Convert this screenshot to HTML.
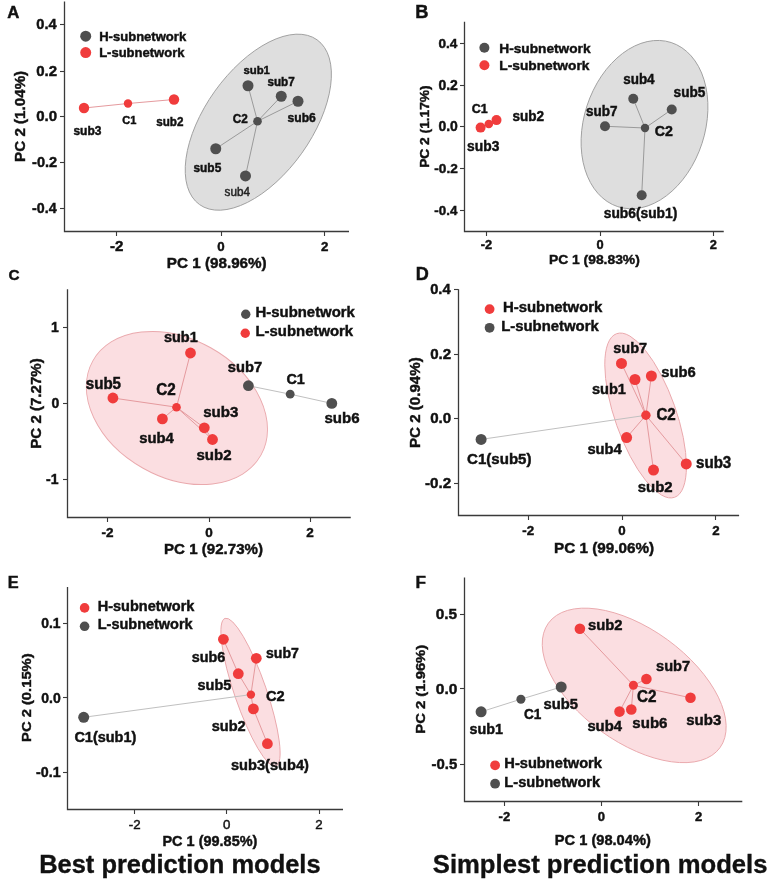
<!DOCTYPE html>
<html><head><meta charset="utf-8"><style>
html,body{margin:0;padding:0;background:#fff;}
svg{display:block;font-family:"Liberation Sans",sans-serif;filter:blur(0.4px);}
</style></head><body>
<svg width="767" height="880" viewBox="0 0 767 880">
<rect width="767" height="880" fill="#fff"/>
<text transform="translate(7.18,17.80) scale(1,1.0)" font-size="16.74" font-weight="bold" fill="#111" stroke="#111" stroke-width="0.45">A</text>
<ellipse cx="0" cy="0" rx="101.20" ry="53.40" transform="translate(258.30,122.20) rotate(-54.50)" fill="#dedede" stroke="#a0a0a0" stroke-width="0.9"/>
<path d="M64.50 1.60 V231.50 H349.00" fill="none" stroke="#3a3a3a" stroke-width="1.3"/>
<line x1="60.00" y1="24.50" x2="64.50" y2="24.50" stroke="#3a3a3a" stroke-width="1.1"/>
<line x1="60.00" y1="71.50" x2="64.50" y2="71.50" stroke="#3a3a3a" stroke-width="1.1"/>
<line x1="60.00" y1="116.50" x2="64.50" y2="116.50" stroke="#3a3a3a" stroke-width="1.1"/>
<line x1="60.00" y1="162.50" x2="64.50" y2="162.50" stroke="#3a3a3a" stroke-width="1.1"/>
<line x1="60.00" y1="208.50" x2="64.50" y2="208.50" stroke="#3a3a3a" stroke-width="1.1"/>
<line x1="116.50" y1="231.50" x2="116.50" y2="236.00" stroke="#3a3a3a" stroke-width="1.1"/>
<line x1="221.50" y1="231.50" x2="221.50" y2="236.00" stroke="#3a3a3a" stroke-width="1.1"/>
<line x1="324.50" y1="231.50" x2="324.50" y2="236.00" stroke="#3a3a3a" stroke-width="1.1"/>
<text transform="translate(36.29,29.40) scale(1,1.0)" font-size="14.61" font-weight="bold" fill="#111" stroke="#111" stroke-width="0.45">0.4</text>
<text transform="translate(36.27,75.50) scale(1,1.0)" font-size="15.00" font-weight="bold" fill="#111" stroke="#111" stroke-width="0.45">0.2</text>
<text transform="translate(36.27,120.80) scale(1,1.0)" font-size="15.00" font-weight="bold" fill="#111" stroke="#111" stroke-width="0.45">0.0</text>
<text transform="translate(32.09,166.60) scale(1,1.0)" font-size="14.55" font-weight="bold" fill="#111" stroke="#111" stroke-width="0.45">-0.2</text>
<text transform="translate(32.10,212.60) scale(1,1.0)" font-size="14.24" font-weight="bold" fill="#111" stroke="#111" stroke-width="0.45">-0.4</text>
<text transform="translate(110.07,250.80) scale(1,1.0)" font-size="15.12" font-weight="bold" fill="#111" stroke="#111" stroke-width="0.45">-2</text>
<text transform="translate(217.31,250.80) scale(1,1.0)" font-size="13.30" font-weight="bold" fill="#111" stroke="#111" stroke-width="0.45">0</text>
<text transform="translate(321.04,250.80) scale(1,1.0)" font-size="13.30" font-weight="bold" fill="#111" stroke="#111" stroke-width="0.45">2</text>
<text transform="translate(166.81,267.80) scale(1,0.98)" font-size="15.25" font-weight="bold" fill="#111" stroke="#111" stroke-width="0.45">PC 1 (98.96%)</text>
<text transform="translate(25.20,161.89) rotate(-90) scale(1,0.9201629735168035)" x="0" y="0" font-size="15.18" font-weight="bold" fill="#111" stroke="#111" stroke-width="0.45">PC 2 (1.04%)</text>
<circle cx="85.70" cy="36.20" r="5.50" fill="#4f4f4f"/>
<circle cx="85.70" cy="52.60" r="5.50" fill="#f03c3c"/>
<text transform="translate(99.15,40.80) scale(1,0.96)" font-size="13.06" font-weight="bold" fill="#111" stroke="#111" stroke-width="0.45">H-subnetwork</text>
<text transform="translate(99.15,56.60) scale(1,0.96)" font-size="13.01" font-weight="bold" fill="#111" stroke="#111" stroke-width="0.45">L-subnetwork</text>
<line x1="84.00" y1="108.00" x2="128.00" y2="103.50" stroke="#e59a9e" stroke-width="1.0"/>
<line x1="128.00" y1="103.50" x2="174.00" y2="99.50" stroke="#e59a9e" stroke-width="1.0"/>
<circle cx="84.00" cy="108.00" r="5.20" fill="#f03c3c"/>
<circle cx="128.00" cy="103.50" r="4.20" fill="#f03c3c"/>
<circle cx="174.00" cy="99.50" r="5.20" fill="#f03c3c"/>
<text transform="translate(73.38,134.60) scale(1,1.03)" font-size="12.01" font-weight="bold" fill="#111" stroke="#111" stroke-width="0.45">sub3</text>
<text transform="translate(122.26,124.10) scale(1,1.03)" font-size="11.07" font-weight="bold" fill="#111" stroke="#111" stroke-width="0.45">C1</text>
<text transform="translate(156.19,126.20) scale(1,1.03)" font-size="11.66" font-weight="bold" fill="#111" stroke="#111" stroke-width="0.45">sub2</text>
<line x1="257.50" y1="121.25" x2="248.00" y2="85.75" stroke="#9a9a9a" stroke-width="1.0"/>
<line x1="257.50" y1="121.25" x2="281.25" y2="96.25" stroke="#9a9a9a" stroke-width="1.0"/>
<line x1="257.50" y1="121.25" x2="298.00" y2="101.25" stroke="#9a9a9a" stroke-width="1.0"/>
<line x1="257.50" y1="121.25" x2="215.75" y2="148.75" stroke="#9a9a9a" stroke-width="1.0"/>
<line x1="257.50" y1="121.25" x2="245.50" y2="175.90" stroke="#9a9a9a" stroke-width="1.0"/>
<circle cx="248.00" cy="85.75" r="5.50" fill="#4f4f4f"/>
<circle cx="281.25" cy="96.25" r="5.50" fill="#4f4f4f"/>
<circle cx="298.00" cy="101.25" r="5.50" fill="#4f4f4f"/>
<circle cx="215.75" cy="148.75" r="5.50" fill="#4f4f4f"/>
<circle cx="245.50" cy="175.90" r="5.50" fill="#4f4f4f"/>
<circle cx="257.50" cy="121.25" r="4.30" fill="#4f4f4f"/>
<text transform="translate(243.40,74.10) scale(1,1.03)" font-size="11.38" font-weight="bold" fill="#111" stroke="#111" stroke-width="0.45">sub1</text>
<text transform="translate(267.49,86.00) scale(1,1.03)" font-size="11.68" font-weight="bold" fill="#111" stroke="#111" stroke-width="0.45">sub7</text>
<text transform="translate(287.48,121.60) scale(1,1.03)" font-size="12.14" font-weight="bold" fill="#111" stroke="#111" stroke-width="0.45">sub6</text>
<text transform="translate(232.83,122.80) scale(1,1.03)" font-size="11.75" font-weight="bold" fill="#111" stroke="#111" stroke-width="0.45">C2</text>
<text transform="translate(193.48,172.20) scale(1,1.03)" font-size="11.91" font-weight="bold" fill="#111" stroke="#111" stroke-width="0.45">sub5</text>
<text transform="translate(224.61,195.70) scale(1,1.03)" font-size="11.73" font-weight="normal" fill="#222" stroke="#222" stroke-width="0.45">sub4</text>
<text transform="translate(415.31,18.00) scale(1,1.0)" font-size="18.29" font-weight="bold" fill="#111" stroke="#111" stroke-width="0.45">B</text>
<ellipse cx="0" cy="0" rx="86.30" ry="60.50" transform="translate(644.50,124.60) rotate(-72.00)" fill="#dedede" stroke="#a0a0a0" stroke-width="0.9"/>
<path d="M464.50 21.80 V231.50 H723.75" fill="none" stroke="#3a3a3a" stroke-width="1.3"/>
<line x1="460.00" y1="43.50" x2="464.50" y2="43.50" stroke="#3a3a3a" stroke-width="1.1"/>
<line x1="460.00" y1="85.50" x2="464.50" y2="85.50" stroke="#3a3a3a" stroke-width="1.1"/>
<line x1="460.00" y1="126.50" x2="464.50" y2="126.50" stroke="#3a3a3a" stroke-width="1.1"/>
<line x1="460.00" y1="168.50" x2="464.50" y2="168.50" stroke="#3a3a3a" stroke-width="1.1"/>
<line x1="460.00" y1="210.50" x2="464.50" y2="210.50" stroke="#3a3a3a" stroke-width="1.1"/>
<line x1="486.50" y1="231.50" x2="486.50" y2="236.00" stroke="#3a3a3a" stroke-width="1.1"/>
<line x1="600.50" y1="231.50" x2="600.50" y2="236.00" stroke="#3a3a3a" stroke-width="1.1"/>
<line x1="713.50" y1="231.50" x2="713.50" y2="236.00" stroke="#3a3a3a" stroke-width="1.1"/>
<text transform="translate(438.42,47.60) scale(1,1.0)" font-size="13.58" font-weight="bold" fill="#111" stroke="#111" stroke-width="0.45">0.4</text>
<text transform="translate(438.41,89.60) scale(1,1.0)" font-size="13.94" font-weight="bold" fill="#111" stroke="#111" stroke-width="0.45">0.2</text>
<text transform="translate(438.41,131.30) scale(1,1.0)" font-size="13.94" font-weight="bold" fill="#111" stroke="#111" stroke-width="0.45">0.0</text>
<text transform="translate(434.32,172.80) scale(1,1.0)" font-size="13.64" font-weight="bold" fill="#111" stroke="#111" stroke-width="0.45">-0.2</text>
<text transform="translate(434.33,214.60) scale(1,1.0)" font-size="13.35" font-weight="bold" fill="#111" stroke="#111" stroke-width="0.45">-0.4</text>
<text transform="translate(480.80,249.30) scale(1,1.0)" font-size="12.80" font-weight="bold" fill="#111" stroke="#111" stroke-width="0.45">-2</text>
<text transform="translate(596.45,248.80) scale(1,1.0)" font-size="12.80" font-weight="bold" fill="#111" stroke="#111" stroke-width="0.45">0</text>
<text transform="translate(709.73,248.80) scale(1,1.0)" font-size="12.80" font-weight="bold" fill="#111" stroke="#111" stroke-width="0.45">2</text>
<text transform="translate(548.90,264.30) scale(1,0.98)" font-size="13.87" font-weight="bold" fill="#111" stroke="#111" stroke-width="0.45">PC 1 (98.83%)</text>
<text transform="translate(428.70,167.79) rotate(-90) scale(1,0.9354952317158225)" x="0" y="0" font-size="13.74" font-weight="bold" fill="#111" stroke="#111" stroke-width="0.45">PC 2 (1.17%)</text>
<circle cx="484.40" cy="47.80" r="5.00" fill="#4f4f4f"/>
<circle cx="484.40" cy="65.30" r="5.00" fill="#f03c3c"/>
<text transform="translate(499.31,52.70) scale(1,0.96)" font-size="13.70" font-weight="bold" fill="#111" stroke="#111" stroke-width="0.45">H-subnetwork</text>
<text transform="translate(499.31,69.90) scale(1,0.96)" font-size="13.75" font-weight="bold" fill="#111" stroke="#111" stroke-width="0.45">L-subnetwork</text>
<line x1="480.60" y1="127.60" x2="488.80" y2="124.00" stroke="#e59a9e" stroke-width="1.0"/>
<line x1="488.80" y1="124.00" x2="496.50" y2="120.10" stroke="#e59a9e" stroke-width="1.0"/>
<circle cx="480.60" cy="127.60" r="5.00" fill="#f03c3c"/>
<circle cx="488.80" cy="124.00" r="4.30" fill="#f03c3c"/>
<circle cx="496.50" cy="120.10" r="5.00" fill="#f03c3c"/>
<text transform="translate(471.80,113.20) scale(1,1.03)" font-size="12.48" font-weight="bold" fill="#111" stroke="#111" stroke-width="0.45">C1</text>
<text transform="translate(512.53,121.40) scale(1,1.03)" font-size="13.55" font-weight="bold" fill="#111" stroke="#111" stroke-width="0.45">sub2</text>
<text transform="translate(467.12,151.10) scale(1,1.03)" font-size="13.82" font-weight="bold" fill="#111" stroke="#111" stroke-width="0.45">sub3</text>
<line x1="645.00" y1="128.00" x2="633.25" y2="98.75" stroke="#9a9a9a" stroke-width="1.0"/>
<line x1="645.00" y1="128.00" x2="671.75" y2="109.50" stroke="#9a9a9a" stroke-width="1.0"/>
<line x1="645.00" y1="128.00" x2="605.00" y2="126.25" stroke="#9a9a9a" stroke-width="1.0"/>
<line x1="645.00" y1="128.00" x2="641.70" y2="195.20" stroke="#9a9a9a" stroke-width="1.0"/>
<circle cx="633.25" cy="98.75" r="5.00" fill="#4f4f4f"/>
<circle cx="671.75" cy="109.50" r="5.00" fill="#4f4f4f"/>
<circle cx="605.00" cy="126.25" r="5.00" fill="#4f4f4f"/>
<circle cx="641.70" cy="195.20" r="5.00" fill="#4f4f4f"/>
<circle cx="645.00" cy="128.00" r="4.20" fill="#4f4f4f"/>
<text transform="translate(623.23,84.40) scale(1,1.03)" font-size="13.43" font-weight="bold" fill="#111" stroke="#111" stroke-width="0.45">sub4</text>
<text transform="translate(673.62,97.10) scale(1,1.03)" font-size="13.63" font-weight="bold" fill="#111" stroke="#111" stroke-width="0.45">sub5</text>
<text transform="translate(585.93,115.80) scale(1,1.03)" font-size="13.50" font-weight="bold" fill="#111" stroke="#111" stroke-width="0.45">sub7</text>
<text transform="translate(654.83,136.10) scale(1,1.03)" font-size="14.17" font-weight="bold" fill="#111" stroke="#111" stroke-width="0.45">C2</text>
<text transform="translate(603.72,217.50) scale(1,1.03)" font-size="13.81" font-weight="bold" fill="#111" stroke="#111" stroke-width="0.45">sub6(sub1)</text>
<text transform="translate(8.39,280.20) scale(1,1.0)" font-size="15.27" font-weight="bold" fill="#111" stroke="#111" stroke-width="0.45">C</text>
<ellipse cx="0" cy="0" rx="96.38" ry="69.07" transform="translate(176.90,408.00) rotate(29.29)" fill="#fbdee1" stroke="#eaa9ad" stroke-width="0.9"/>
<path d="M67.50 289.25 V517.50 H350.75" fill="none" stroke="#3a3a3a" stroke-width="1.3"/>
<line x1="63.00" y1="327.50" x2="67.50" y2="327.50" stroke="#3a3a3a" stroke-width="1.1"/>
<line x1="63.00" y1="403.50" x2="67.50" y2="403.50" stroke="#3a3a3a" stroke-width="1.1"/>
<line x1="63.00" y1="479.50" x2="67.50" y2="479.50" stroke="#3a3a3a" stroke-width="1.1"/>
<line x1="107.50" y1="517.50" x2="107.50" y2="522.00" stroke="#3a3a3a" stroke-width="1.1"/>
<line x1="209.50" y1="517.50" x2="209.50" y2="522.00" stroke="#3a3a3a" stroke-width="1.1"/>
<line x1="310.50" y1="517.50" x2="310.50" y2="522.00" stroke="#3a3a3a" stroke-width="1.1"/>
<text transform="translate(51.07,332.10) scale(1,1.0)" font-size="14.00" font-weight="bold" fill="#111" stroke="#111" stroke-width="0.45">1</text>
<text transform="translate(51.51,408.20) scale(1,1.0)" font-size="14.00" font-weight="bold" fill="#111" stroke="#111" stroke-width="0.45">0</text>
<text transform="translate(46.00,484.20) scale(1,1.0)" font-size="14.00" font-weight="bold" fill="#111" stroke="#111" stroke-width="0.45">-1</text>
<text transform="translate(101.49,536.50) scale(1,1.0)" font-size="13.50" font-weight="bold" fill="#111" stroke="#111" stroke-width="0.45">-2</text>
<text transform="translate(205.25,536.60) scale(1,1.0)" font-size="13.50" font-weight="bold" fill="#111" stroke="#111" stroke-width="0.45">0</text>
<text transform="translate(306.29,536.60) scale(1,1.0)" font-size="13.50" font-weight="bold" fill="#111" stroke="#111" stroke-width="0.45">2</text>
<text transform="translate(164.02,554.20) scale(1,0.98)" font-size="15.10" font-weight="bold" fill="#111" stroke="#111" stroke-width="0.45">PC 1 (92.73%)</text>
<text transform="translate(40.50,448.68) rotate(-90) scale(1,0.9274246880766881)" x="0" y="0" font-size="15.06" font-weight="bold" fill="#111" stroke="#111" stroke-width="0.45">PC 2 (7.27%)</text>
<circle cx="245.75" cy="314.20" r="4.70" fill="#4f4f4f"/>
<circle cx="245.25" cy="333.20" r="4.70" fill="#f03c3c"/>
<text transform="translate(255.53,317.00) scale(1,0.96)" font-size="14.91" font-weight="bold" fill="#111" stroke="#111" stroke-width="0.45">H-subnetwork</text>
<text transform="translate(255.53,336.20) scale(1,0.96)" font-size="14.90" font-weight="bold" fill="#111" stroke="#111" stroke-width="0.45">L-subnetwork</text>
<line x1="176.50" y1="407.20" x2="190.50" y2="353.00" stroke="#e59a9e" stroke-width="1.0"/>
<line x1="176.50" y1="407.20" x2="112.90" y2="398.00" stroke="#e59a9e" stroke-width="1.0"/>
<line x1="176.50" y1="407.20" x2="162.40" y2="418.90" stroke="#e59a9e" stroke-width="1.0"/>
<line x1="176.50" y1="407.20" x2="204.30" y2="427.80" stroke="#e59a9e" stroke-width="1.0"/>
<line x1="176.50" y1="407.20" x2="212.50" y2="439.50" stroke="#e59a9e" stroke-width="1.0"/>
<line x1="204.30" y1="427.80" x2="212.50" y2="439.50" stroke="#e59a9e" stroke-width="1.0"/>
<line x1="248.40" y1="385.70" x2="290.20" y2="394.20" stroke="#c0c0c0" stroke-width="1.0"/>
<line x1="290.20" y1="394.20" x2="331.80" y2="403.40" stroke="#c0c0c0" stroke-width="1.0"/>
<circle cx="190.50" cy="353.00" r="5.40" fill="#f03c3c"/>
<circle cx="112.90" cy="398.00" r="5.40" fill="#f03c3c"/>
<circle cx="162.40" cy="418.90" r="5.40" fill="#f03c3c"/>
<circle cx="204.30" cy="427.80" r="5.40" fill="#f03c3c"/>
<circle cx="212.50" cy="439.50" r="5.40" fill="#f03c3c"/>
<circle cx="176.50" cy="407.20" r="4.30" fill="#f03c3c"/>
<circle cx="248.40" cy="385.70" r="5.40" fill="#4f4f4f"/>
<circle cx="290.20" cy="394.20" r="4.40" fill="#4f4f4f"/>
<circle cx="331.80" cy="403.40" r="5.40" fill="#4f4f4f"/>
<text transform="translate(163.99,342.00) scale(1,1.03)" font-size="14.46" font-weight="bold" fill="#111" stroke="#111" stroke-width="0.45">sub1</text>
<text transform="translate(85.77,388.90) scale(1,1.03)" font-size="15.12" font-weight="bold" fill="#111" stroke="#111" stroke-width="0.45">sub5</text>
<text transform="translate(156.29,395.30) scale(1,1.03)" font-size="15.25" font-weight="bold" fill="#111" stroke="#111" stroke-width="0.45">C2</text>
<text transform="translate(203.17,416.80) scale(1,1.03)" font-size="15.10" font-weight="bold" fill="#111" stroke="#111" stroke-width="0.45">sub3</text>
<text transform="translate(139.18,442.80) scale(1,1.03)" font-size="14.87" font-weight="bold" fill="#111" stroke="#111" stroke-width="0.45">sub4</text>
<text transform="translate(196.47,459.90) scale(1,1.03)" font-size="15.06" font-weight="bold" fill="#111" stroke="#111" stroke-width="0.45">sub2</text>
<text transform="translate(227.79,372.30) scale(1,1.03)" font-size="14.69" font-weight="bold" fill="#111" stroke="#111" stroke-width="0.45">sub7</text>
<text transform="translate(286.42,384.20) scale(1,1.03)" font-size="14.38" font-weight="bold" fill="#111" stroke="#111" stroke-width="0.45">C1</text>
<text transform="translate(324.47,423.40) scale(1,1.03)" font-size="15.06" font-weight="bold" fill="#111" stroke="#111" stroke-width="0.45">sub6</text>
<text transform="translate(415.63,279.70) scale(1,1.0)" font-size="18.06" font-weight="bold" fill="#111" stroke="#111" stroke-width="0.45">D</text>
<ellipse cx="0" cy="0" rx="86.80" ry="30.50" transform="translate(645.60,415.50) rotate(70.50)" fill="#fbdee1" stroke="#eaa9ad" stroke-width="0.9"/>
<path d="M458.50 289.20 V515.50 H739.10" fill="none" stroke="#3a3a3a" stroke-width="1.3"/>
<line x1="454.00" y1="289.50" x2="458.50" y2="289.50" stroke="#3a3a3a" stroke-width="1.1"/>
<line x1="454.00" y1="354.50" x2="458.50" y2="354.50" stroke="#3a3a3a" stroke-width="1.1"/>
<line x1="454.00" y1="418.50" x2="458.50" y2="418.50" stroke="#3a3a3a" stroke-width="1.1"/>
<line x1="454.00" y1="483.50" x2="458.50" y2="483.50" stroke="#3a3a3a" stroke-width="1.1"/>
<line x1="528.50" y1="515.50" x2="528.50" y2="520.00" stroke="#3a3a3a" stroke-width="1.1"/>
<line x1="622.50" y1="515.50" x2="622.50" y2="520.00" stroke="#3a3a3a" stroke-width="1.1"/>
<line x1="715.50" y1="515.50" x2="715.50" y2="520.00" stroke="#3a3a3a" stroke-width="1.1"/>
<text transform="translate(430.19,293.50) scale(1,1.0)" font-size="14.69" font-weight="bold" fill="#111" stroke="#111" stroke-width="0.45">0.4</text>
<text transform="translate(430.17,358.60) scale(1,1.0)" font-size="15.08" font-weight="bold" fill="#111" stroke="#111" stroke-width="0.45">0.2</text>
<text transform="translate(430.17,423.20) scale(1,1.0)" font-size="15.08" font-weight="bold" fill="#111" stroke="#111" stroke-width="0.45">0.0</text>
<text transform="translate(425.07,488.00) scale(1,1.0)" font-size="15.15" font-weight="bold" fill="#111" stroke="#111" stroke-width="0.45">-0.2</text>
<text transform="translate(522.33,535.00) scale(1,1.0)" font-size="13.30" font-weight="bold" fill="#111" stroke="#111" stroke-width="0.45">-2</text>
<text transform="translate(618.31,534.90) scale(1,1.0)" font-size="13.30" font-weight="bold" fill="#111" stroke="#111" stroke-width="0.45">0</text>
<text transform="translate(712.24,534.90) scale(1,1.0)" font-size="13.30" font-weight="bold" fill="#111" stroke="#111" stroke-width="0.45">2</text>
<text transform="translate(554.01,552.50) scale(1,0.98)" font-size="15.28" font-weight="bold" fill="#111" stroke="#111" stroke-width="0.45">PC 1 (99.06%)</text>
<text transform="translate(419.50,447.98) rotate(-90) scale(1,0.9232611653468262)" x="0" y="0" font-size="15.13" font-weight="bold" fill="#111" stroke="#111" stroke-width="0.45">PC 2 (0.94%)</text>
<circle cx="489.60" cy="309.10" r="4.90" fill="#f03c3c"/>
<circle cx="489.60" cy="327.80" r="4.90" fill="#4f4f4f"/>
<text transform="translate(502.93,311.90) scale(1,0.96)" font-size="14.94" font-weight="bold" fill="#111" stroke="#111" stroke-width="0.45">H-subnetwork</text>
<text transform="translate(501.23,330.50) scale(1,0.96)" font-size="14.89" font-weight="bold" fill="#111" stroke="#111" stroke-width="0.45">L-subnetwork</text>
<line x1="481.10" y1="439.40" x2="645.90" y2="415.30" stroke="#c0c0c0" stroke-width="1.0"/>
<line x1="645.90" y1="415.30" x2="621.50" y2="363.40" stroke="#e59a9e" stroke-width="1.0"/>
<line x1="645.90" y1="415.30" x2="635.00" y2="379.50" stroke="#e59a9e" stroke-width="1.0"/>
<line x1="645.90" y1="415.30" x2="651.40" y2="376.00" stroke="#e59a9e" stroke-width="1.0"/>
<line x1="645.90" y1="415.30" x2="626.60" y2="437.60" stroke="#e59a9e" stroke-width="1.0"/>
<line x1="645.90" y1="415.30" x2="686.25" y2="463.90" stroke="#e59a9e" stroke-width="1.0"/>
<line x1="645.90" y1="415.30" x2="653.50" y2="470.10" stroke="#e59a9e" stroke-width="1.0"/>
<circle cx="481.10" cy="439.40" r="5.50" fill="#4f4f4f"/>
<circle cx="621.50" cy="363.40" r="5.50" fill="#f03c3c"/>
<circle cx="635.00" cy="379.50" r="5.50" fill="#f03c3c"/>
<circle cx="651.40" cy="376.00" r="5.50" fill="#f03c3c"/>
<circle cx="626.60" cy="437.60" r="5.50" fill="#f03c3c"/>
<circle cx="686.25" cy="463.90" r="5.50" fill="#f03c3c"/>
<circle cx="653.50" cy="470.10" r="5.50" fill="#f03c3c"/>
<circle cx="645.90" cy="415.30" r="4.70" fill="#f03c3c"/>
<text transform="translate(467.10,464.40) scale(1,1.03)" font-size="15.06" font-weight="bold" fill="#111" stroke="#111" stroke-width="0.45">C1(sub5)</text>
<text transform="translate(613.29,352.80) scale(1,1.03)" font-size="14.51" font-weight="bold" fill="#111" stroke="#111" stroke-width="0.45">sub7</text>
<text transform="translate(661.28,377.40) scale(1,1.03)" font-size="14.79" font-weight="bold" fill="#111" stroke="#111" stroke-width="0.45">sub6</text>
<text transform="translate(591.89,394.20) scale(1,1.03)" font-size="14.59" font-weight="bold" fill="#111" stroke="#111" stroke-width="0.45">sub1</text>
<text transform="translate(656.39,419.60) scale(1,1.03)" font-size="15.17" font-weight="bold" fill="#111" stroke="#111" stroke-width="0.45">C2</text>
<text transform="translate(587.38,453.90) scale(1,1.03)" font-size="14.74" font-weight="bold" fill="#111" stroke="#111" stroke-width="0.45">sub4</text>
<text transform="translate(695.97,467.60) scale(1,1.03)" font-size="15.14" font-weight="bold" fill="#111" stroke="#111" stroke-width="0.45">sub3</text>
<text transform="translate(637.68,492.20) scale(1,1.03)" font-size="14.97" font-weight="bold" fill="#111" stroke="#111" stroke-width="0.45">sub2</text>
<text transform="translate(7.69,587.70) scale(1,1.0)" font-size="16.37" font-weight="bold" fill="#111" stroke="#111" stroke-width="0.45">E</text>
<ellipse cx="0" cy="0" rx="78.20" ry="16.00" transform="translate(250.50,692.30) rotate(71.00)" fill="#fbdee1" stroke="#eaa9ad" stroke-width="0.9"/>
<path d="M67.50 587.00 V809.50 H343.00" fill="none" stroke="#3a3a3a" stroke-width="1.3"/>
<line x1="63.00" y1="623.50" x2="67.50" y2="623.50" stroke="#3a3a3a" stroke-width="1.1"/>
<line x1="63.00" y1="697.50" x2="67.50" y2="697.50" stroke="#3a3a3a" stroke-width="1.1"/>
<line x1="63.00" y1="772.50" x2="67.50" y2="772.50" stroke="#3a3a3a" stroke-width="1.1"/>
<line x1="134.50" y1="809.50" x2="134.50" y2="814.00" stroke="#3a3a3a" stroke-width="1.1"/>
<line x1="226.50" y1="809.50" x2="226.50" y2="814.00" stroke="#3a3a3a" stroke-width="1.1"/>
<line x1="319.50" y1="809.50" x2="319.50" y2="814.00" stroke="#3a3a3a" stroke-width="1.1"/>
<text transform="translate(41.21,628.40) scale(1,1.0)" font-size="13.91" font-weight="bold" fill="#111" stroke="#111" stroke-width="0.45">0.1</text>
<text transform="translate(41.21,703.00) scale(1,1.0)" font-size="14.02" font-weight="bold" fill="#111" stroke="#111" stroke-width="0.45">0.0</text>
<text transform="translate(36.10,777.00) scale(1,1.0)" font-size="14.22" font-weight="bold" fill="#111" stroke="#111" stroke-width="0.45">-0.1</text>
<text transform="translate(128.86,829.40) scale(1,1.0)" font-size="13.30" font-weight="normal" fill="#111" stroke="#111" stroke-width="0.45">-2</text>
<text transform="translate(223.11,829.40) scale(1,1.0)" font-size="13.30" font-weight="normal" fill="#111" stroke="#111" stroke-width="0.45">0</text>
<text transform="translate(315.28,829.40) scale(1,1.0)" font-size="13.30" font-weight="normal" fill="#111" stroke="#111" stroke-width="0.45">2</text>
<text transform="translate(162.46,846.00) scale(1,0.98)" font-size="14.48" font-weight="bold" fill="#111" stroke="#111" stroke-width="0.45">PC 1 (99.85%)</text>
<text transform="translate(30.50,741.96) rotate(-90) scale(1,0.9077249084954728)" x="0" y="0" font-size="14.77" font-weight="bold" fill="#111" stroke="#111" stroke-width="0.45">PC 2 (0.15%)</text>
<circle cx="84.60" cy="607.90" r="4.80" fill="#f03c3c"/>
<circle cx="84.60" cy="626.30" r="4.80" fill="#4f4f4f"/>
<text transform="translate(97.76,610.50) scale(1,0.96)" font-size="14.50" font-weight="bold" fill="#111" stroke="#111" stroke-width="0.45">H-subnetwork</text>
<text transform="translate(97.76,628.90) scale(1,0.96)" font-size="14.49" font-weight="bold" fill="#111" stroke="#111" stroke-width="0.45">L-subnetwork</text>
<line x1="83.70" y1="717.30" x2="250.90" y2="694.60" stroke="#c0c0c0" stroke-width="1.0"/>
<line x1="223.40" y1="639.30" x2="238.30" y2="673.70" stroke="#e59a9e" stroke-width="1.0"/>
<line x1="238.30" y1="673.70" x2="250.90" y2="694.60" stroke="#e59a9e" stroke-width="1.0"/>
<line x1="250.90" y1="694.60" x2="256.30" y2="658.30" stroke="#e59a9e" stroke-width="1.0"/>
<line x1="250.90" y1="694.60" x2="253.40" y2="708.90" stroke="#e59a9e" stroke-width="1.0"/>
<line x1="253.40" y1="708.90" x2="267.40" y2="743.70" stroke="#e59a9e" stroke-width="1.0"/>
<circle cx="83.70" cy="717.30" r="5.50" fill="#4f4f4f"/>
<circle cx="223.40" cy="639.30" r="5.40" fill="#f03c3c"/>
<circle cx="256.30" cy="658.30" r="5.40" fill="#f03c3c"/>
<circle cx="238.30" cy="673.70" r="5.40" fill="#f03c3c"/>
<circle cx="253.40" cy="708.90" r="5.40" fill="#f03c3c"/>
<circle cx="267.40" cy="743.70" r="5.40" fill="#f03c3c"/>
<circle cx="250.90" cy="694.60" r="4.20" fill="#f03c3c"/>
<text transform="translate(74.42,742.40) scale(1,1.03)" font-size="14.49" font-weight="bold" fill="#111" stroke="#111" stroke-width="0.45">C1(sub1)</text>
<text transform="translate(191.80,662.00) scale(1,1.03)" font-size="14.39" font-weight="bold" fill="#111" stroke="#111" stroke-width="0.45">sub6</text>
<text transform="translate(266.01,657.90) scale(1,1.03)" font-size="14.07" font-weight="bold" fill="#111" stroke="#111" stroke-width="0.45">sub7</text>
<text transform="translate(197.49,689.70) scale(1,1.03)" font-size="14.51" font-weight="bold" fill="#111" stroke="#111" stroke-width="0.45">sub5</text>
<text transform="translate(265.91,701.10) scale(1,1.03)" font-size="14.67" font-weight="bold" fill="#111" stroke="#111" stroke-width="0.45">C2</text>
<text transform="translate(211.69,730.50) scale(1,1.03)" font-size="14.57" font-weight="bold" fill="#111" stroke="#111" stroke-width="0.45">sub2</text>
<text transform="translate(230.99,770.20) scale(1,1.03)" font-size="14.63" font-weight="bold" fill="#111" stroke="#111" stroke-width="0.45">sub3(sub4)</text>
<text transform="translate(39.15,873.20) scale(1,1.0)" font-size="25.46" font-weight="bold" fill="#111" stroke="#111" stroke-width="0.35">Best prediction models</text>
<text transform="translate(415.38,587.70) scale(1,1.0)" font-size="17.16" font-weight="bold" fill="#111" stroke="#111" stroke-width="0.45">F</text>
<ellipse cx="0" cy="0" rx="106.00" ry="56.50" transform="translate(634.20,685.40) rotate(36.00)" fill="#fbdee1" stroke="#eaa9ad" stroke-width="0.9"/>
<path d="M464.50 577.50 V801.50 H742.30" fill="none" stroke="#3a3a3a" stroke-width="1.3"/>
<line x1="460.00" y1="614.50" x2="464.50" y2="614.50" stroke="#3a3a3a" stroke-width="1.1"/>
<line x1="460.00" y1="688.50" x2="464.50" y2="688.50" stroke="#3a3a3a" stroke-width="1.1"/>
<line x1="460.00" y1="764.50" x2="464.50" y2="764.50" stroke="#3a3a3a" stroke-width="1.1"/>
<line x1="504.50" y1="801.50" x2="504.50" y2="806.00" stroke="#3a3a3a" stroke-width="1.1"/>
<line x1="601.50" y1="801.50" x2="601.50" y2="806.00" stroke="#3a3a3a" stroke-width="1.1"/>
<line x1="698.50" y1="801.50" x2="698.50" y2="806.00" stroke="#3a3a3a" stroke-width="1.1"/>
<text transform="translate(435.76,619.40) scale(1,1.0)" font-size="15.41" font-weight="bold" fill="#111" stroke="#111" stroke-width="0.45">0.5</text>
<text transform="translate(435.76,694.00) scale(1,1.0)" font-size="15.53" font-weight="bold" fill="#111" stroke="#111" stroke-width="0.45">0.0</text>
<text transform="translate(431.48,769.20) scale(1,1.0)" font-size="14.94" font-weight="bold" fill="#111" stroke="#111" stroke-width="0.45">-0.5</text>
<text transform="translate(498.62,820.80) scale(1,1.0)" font-size="13.00" font-weight="bold" fill="#111" stroke="#111" stroke-width="0.45">-2</text>
<text transform="translate(597.79,820.70) scale(1,1.0)" font-size="13.00" font-weight="bold" fill="#111" stroke="#111" stroke-width="0.45">0</text>
<text transform="translate(694.93,820.70) scale(1,1.0)" font-size="13.00" font-weight="bold" fill="#111" stroke="#111" stroke-width="0.45">2</text>
<text transform="translate(554.75,844.50) scale(1,0.98)" font-size="14.66" font-weight="bold" fill="#111" stroke="#111" stroke-width="0.45">PC 1 (98.04%)</text>
<text transform="translate(425.00,733.66) rotate(-90) scale(1,0.9234515284737012)" x="0" y="0" font-size="14.82" font-weight="bold" fill="#111" stroke="#111" stroke-width="0.45">PC 2 (1.96%)</text>
<circle cx="495.10" cy="765.30" r="4.90" fill="#f03c3c"/>
<circle cx="495.10" cy="783.70" r="4.90" fill="#4f4f4f"/>
<text transform="translate(504.35,768.10) scale(1,0.96)" font-size="14.64" font-weight="bold" fill="#111" stroke="#111" stroke-width="0.45">H-subnetwork</text>
<text transform="translate(504.35,786.50) scale(1,0.96)" font-size="14.63" font-weight="bold" fill="#111" stroke="#111" stroke-width="0.45">L-subnetwork</text>
<line x1="481.10" y1="711.80" x2="520.90" y2="699.20" stroke="#c0c0c0" stroke-width="1.0"/>
<line x1="520.90" y1="699.20" x2="561.20" y2="687.00" stroke="#c0c0c0" stroke-width="1.0"/>
<circle cx="481.10" cy="711.80" r="5.50" fill="#4f4f4f"/>
<circle cx="520.90" cy="699.20" r="4.50" fill="#4f4f4f"/>
<circle cx="561.20" cy="687.00" r="5.50" fill="#4f4f4f"/>
<text transform="translate(469.50,734.00) scale(1,1.03)" font-size="14.33" font-weight="bold" fill="#111" stroke="#111" stroke-width="0.45">sub1</text>
<text transform="translate(523.96,719.40) scale(1,1.03)" font-size="13.55" font-weight="bold" fill="#111" stroke="#111" stroke-width="0.45">C1</text>
<text transform="translate(543.48,709.00) scale(1,1.03)" font-size="14.81" font-weight="bold" fill="#111" stroke="#111" stroke-width="0.45">sub5</text>
<line x1="633.40" y1="685.30" x2="579.90" y2="628.70" stroke="#e59a9e" stroke-width="1.0"/>
<line x1="633.40" y1="685.30" x2="646.40" y2="679.00" stroke="#e59a9e" stroke-width="1.0"/>
<line x1="633.40" y1="685.30" x2="690.50" y2="697.80" stroke="#e59a9e" stroke-width="1.0"/>
<line x1="633.40" y1="685.30" x2="631.30" y2="709.50" stroke="#e59a9e" stroke-width="1.0"/>
<line x1="633.40" y1="685.30" x2="619.50" y2="711.60" stroke="#e59a9e" stroke-width="1.0"/>
<circle cx="579.90" cy="628.70" r="5.30" fill="#f03c3c"/>
<circle cx="646.40" cy="679.00" r="5.30" fill="#f03c3c"/>
<circle cx="690.50" cy="697.80" r="5.30" fill="#f03c3c"/>
<circle cx="631.30" cy="709.50" r="5.30" fill="#f03c3c"/>
<circle cx="619.50" cy="711.60" r="5.30" fill="#f03c3c"/>
<circle cx="633.40" cy="685.30" r="4.50" fill="#f03c3c"/>
<text transform="translate(587.98,630.10) scale(1,1.03)" font-size="14.79" font-weight="bold" fill="#111" stroke="#111" stroke-width="0.45">sub2</text>
<text transform="translate(656.09,671.30) scale(1,1.03)" font-size="14.60" font-weight="bold" fill="#111" stroke="#111" stroke-width="0.45">sub7</text>
<text transform="translate(637.09,702.30) scale(1,1.03)" font-size="15.25" font-weight="bold" fill="#111" stroke="#111" stroke-width="0.45">C2</text>
<text transform="translate(587.38,730.70) scale(1,1.03)" font-size="14.83" font-weight="bold" fill="#111" stroke="#111" stroke-width="0.45">sub4</text>
<text transform="translate(632.37,728.40) scale(1,1.03)" font-size="15.06" font-weight="bold" fill="#111" stroke="#111" stroke-width="0.45">sub6</text>
<text transform="translate(686.27,725.20) scale(1,1.03)" font-size="15.01" font-weight="bold" fill="#111" stroke="#111" stroke-width="0.45">sub3</text>
<text transform="translate(432.86,873.20) scale(1,1.0)" font-size="25.63" font-weight="bold" fill="#111" stroke="#111" stroke-width="0.35">Simplest prediction models</text>
</svg></body></html>
